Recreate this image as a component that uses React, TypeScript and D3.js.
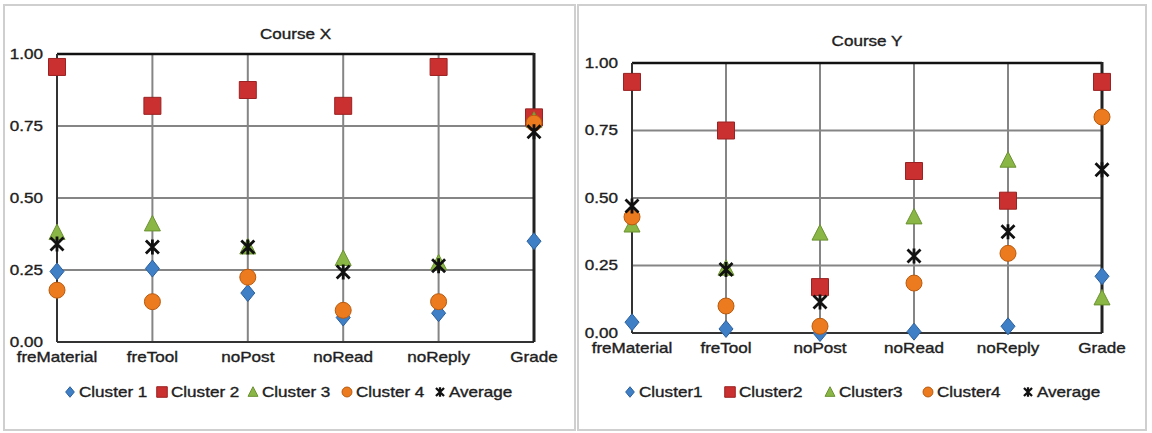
import * as d3 from "d3";

// categories shared by both courses
const categories = ["freMaterial", "freTool", "noPost", "noRead", "noReply", "Grade"];
const yTicks = [0, 0.25, 0.5, 0.75, 1];

// Course X – mean normalised value per cluster
const courseXCluster1 = [0.245, 0.255, 0.17, 0.085, 0.1, 0.35];
const courseXCluster2 = [0.955, 0.82, 0.875, 0.82, 0.955, 0.78];
const courseXCluster3 = [0.38, 0.41, 0.33, 0.29, 0.275, 0.77];
const courseXCluster4 = [0.18, 0.14, 0.225, 0.11, 0.14, 0.76];
const courseXAverage = [0.34, 0.33, 0.33, 0.243, 0.265, 0.73];
const courseXLabels = ["Cluster 1", "Cluster 2", "Cluster 3", "Cluster 4", "Average"];

// Course Y
const courseYCluster1 = [0.04, 0.015, 0.0, 0.005, 0.025, 0.21];
const courseYCluster2 = [0.93, 0.75, 0.17, 0.6, 0.49, 0.93];
const courseYCluster3 = [0.4, 0.24, 0.37, 0.43, 0.64, 0.13];
const courseYCluster4 = [0.43, 0.1, 0.025, 0.185, 0.295, 0.8];
const courseYAverage = [0.47, 0.235, 0.115, 0.285, 0.375, 0.605];
const courseYLabels = ["Cluster1", "Cluster2", "Cluster3", "Cluster4", "Average"];

const markers = ["diamond", "square", "triangle", "circle", "star"];
const colors = ["#3f7fc6", "#cb3030", "#8ab646", "#ec7a1e", "#111111"];
const strokes = ["#2b5f9c", "#9a2222", "#6a9130", "#b85a10", "#111111"];

const FONT = "'Liberation Sans', Arial, sans-serif";
const SX = 1.22; // the chart text is rendered a little wide

type Layout = {
  frame: [number, number, number, number];
  left: number;
  right: number;
  top: number;
  bottom: number;
  titleY: number;
  tickX: number;
  catY: number;
  legendY: number;
  legendX: number[];
};

const markerPath = (kind: string, s = 1) => {
  switch (kind) {
    case "diamond":
      return `M0,${-8.5 * s}L${7 * s},0L0,${8.5 * s}L${-7 * s},0Z`;
    case "square":
      return `M${-8.5 * s},${-8.5 * s}h${17 * s}v${17 * s}h${-17 * s}Z`;
    case "triangle":
      return `M0,${-8.5 * s}L${8 * s},${7 * s}L${-8 * s},${7 * s}Z`;
    case "circle":
      return d3.symbol(d3.symbolCircle, Math.PI * 8 * 8 * s * s)() as string;
    default:
      return `M${-6.5 * s},${-6.5 * s}L${6.5 * s},${6.5 * s}M${-6.5 * s},${6.5 * s}L${6.5 * s},${-6.5 * s}M0,${-7.5 * s}V${7.5 * s}`;
  }
};

const Marker = ({ kind, i, x, y, s = 1 }: { kind: string; i: number; x: number; y: number; s?: number }) =>
  kind === "star" ? (
    <path d={markerPath(kind, s)} transform={`translate(${x},${y})`} fill="none" stroke={colors[i]} strokeWidth={2.8 * Math.max(s, 0.8)} />
  ) : (
    <path d={markerPath(kind, s)} transform={`translate(${x},${y})`} fill={colors[i]} stroke={strokes[i]} strokeWidth={1} />
  );

const textProps = { fontSize: 14, fill: "#1e1e1e", stroke: "#1e1e1e", strokeWidth: 0.35, dominantBaseline: "central" as const };

const Panel = ({ title, series, labels, p }: { title: string; series: number[][]; labels: string[]; p: Layout }) => {
  const x = d3.scalePoint<string>().domain(categories).range([p.left, p.right]);
  const y = d3.scaleLinear().domain([0, 1]).range([p.bottom, p.top]);
  const fmt = d3.format(".2f");
  const [fx, fy, fw, fh] = p.frame;

  return (
    <g>
      <rect x={fx} y={fy} width={fw} height={fh} fill="#fff" stroke="#cfcfcf" strokeWidth={2} />
      <text
        transform={`translate(${(p.left + p.right) / 2},${p.titleY}) scale(${SX},1)`}
        textAnchor="middle"
        {...textProps}
      >
        {title}
      </text>

      {/* gridlines */}
      {yTicks.slice(1, -1).map((t) => (
        <line key={"h" + t} x1={p.left} x2={p.right} y1={y(t)} y2={y(t)} stroke="#858585" strokeWidth={2} />
      ))}
      {categories.slice(1, -1).map((c) => (
        <line key={"v" + c} x1={x(c)} x2={x(c)} y1={p.top} y2={p.bottom} stroke="#858585" strokeWidth={2} />
      ))}

      {/* plot frame */}
      <line x1={p.left} x2={p.right} y1={y(1)} y2={y(1)} stroke="#111" strokeWidth={2.5} />
      <line x1={p.left} x2={p.right} y1={y(0)} y2={y(0)} stroke="#333" strokeWidth={2} />
      <line x1={p.left} x2={p.left} y1={p.top} y2={p.bottom} stroke="#333" strokeWidth={2} />
      <line x1={p.right} x2={p.right} y1={p.top - 1} y2={p.bottom} stroke="#222" strokeWidth={3} />

      {/* axis labels */}
      {yTicks.map((t) => (
        <text key={"yt" + t} transform={`translate(${p.tickX},${y(t)}) scale(${SX},1)`} textAnchor="end" {...textProps}>
          {fmt(t)}
        </text>
      ))}
      {categories.map((c) => (
        <text key={"xt" + c} transform={`translate(${x(c)},${p.catY}) scale(${SX},1)`} textAnchor="middle" {...textProps}>
          {c}
        </text>
      ))}

      {/* points */}
      {series.map((vals, si) =>
        vals.map((v, ci) => (
          <Marker key={`m${si}-${ci}`} kind={markers[si]} i={si} x={x(categories[ci]) as number} y={y(v)} />
        ))
      )}

      {/* legend */}
      {labels.map((l, i) => (
        <g key={"lg" + l}>
          <Marker kind={markers[i]} i={i} x={p.legendX[i]} y={p.legendY} s={0.62} />
          <text transform={`translate(${p.legendX[i] + 9},${p.legendY}) scale(${SX},1)`} {...textProps}>
            {l}
          </text>
        </g>
      ))}
    </g>
  );
};

const layoutX: Layout = {
  frame: [4, 5, 571, 425],
  left: 57,
  right: 534,
  top: 54,
  bottom: 342,
  titleY: 34,
  tickX: 43,
  catY: 357,
  legendY: 392,
  legendX: [70, 162, 253, 347, 440],
};

const layoutY: Layout = {
  frame: [578, 5, 568, 425],
  left: 632,
  right: 1102,
  top: 63,
  bottom: 333,
  titleY: 41,
  tickX: 618,
  catY: 348,
  legendY: 392,
  legendX: [630, 730, 830, 928, 1028],
};

export default function App() {
  return (
    <svg width={1152} height={433} style={{ position: "absolute", left: 0, top: 0, fontFamily: FONT }}>
      <rect width={1152} height={433} fill="#fff" />
      <Panel
        title="Course X"
        series={[courseXCluster1, courseXCluster2, courseXCluster3, courseXCluster4, courseXAverage]}
        labels={courseXLabels}
        p={layoutX}
      />
      <Panel
        title="Course Y"
        series={[courseYCluster1, courseYCluster2, courseYCluster3, courseYCluster4, courseYAverage]}
        labels={courseYLabels}
        p={layoutY}
      />
    </svg>
  );
}
